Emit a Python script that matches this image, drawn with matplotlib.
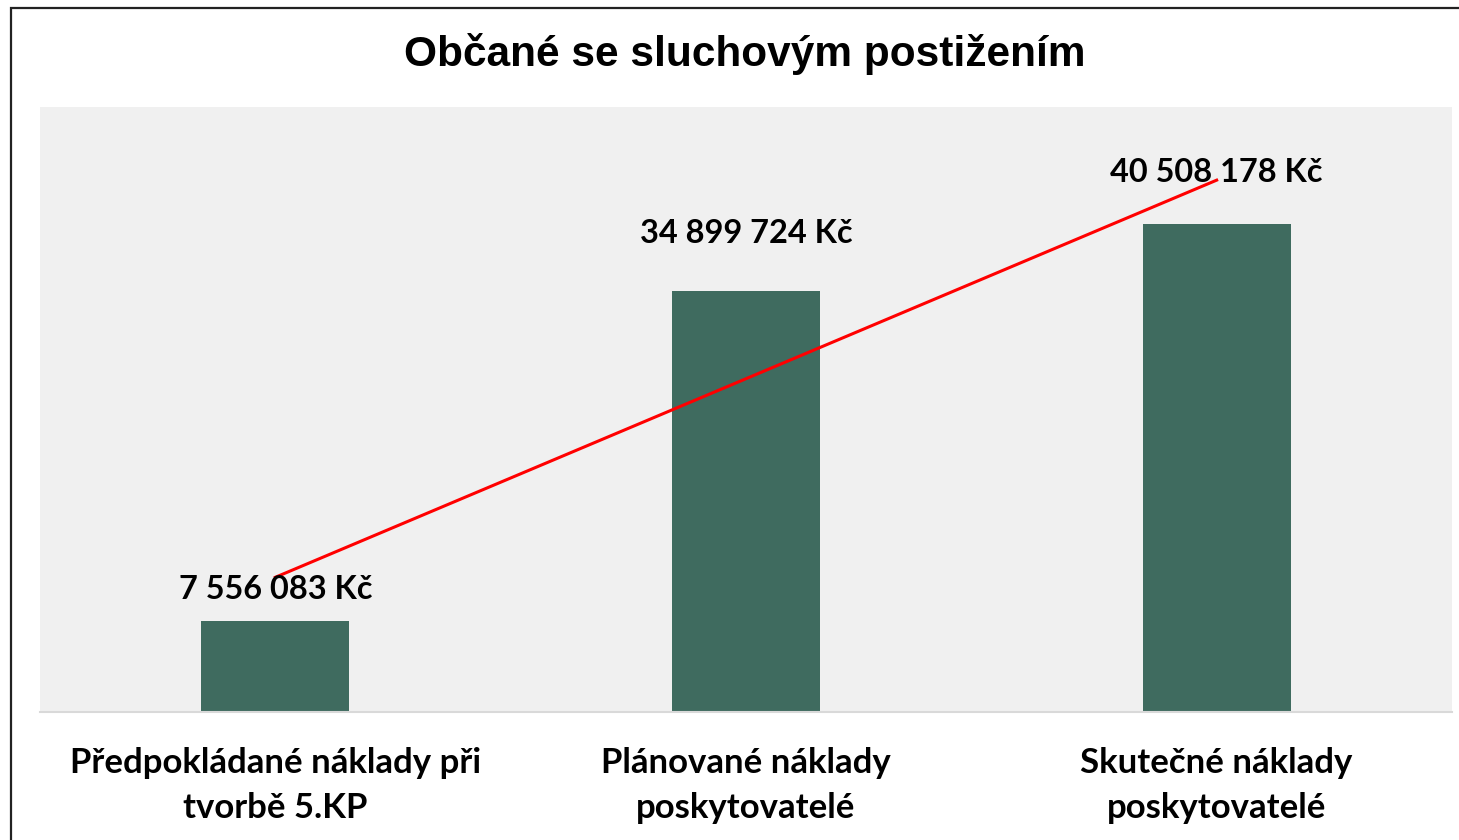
import matplotlib
matplotlib.use("Agg")
import matplotlib.pyplot as plt
import numpy as np
from matplotlib.patches import Rectangle


TITLE = "Občané se sluchovým postižením"
CATEGORIES = [
    "Předpokládané náklady při\ntvorbě 5.KP",
    "Plánované náklady\nposkytovatelé",
    "Skutečné náklady\nposkytovatelé",
]
VALUES = [7556083, 34899724, 40508178]
VALUE_LABELS = ["7 556 083 Kč", "34 899 724 Kč", "40 508 178 Kč"]

BAR_COLOR = "#3F6B5F"
TREND_COLOR = "#FF0000"
PLOT_BG = "#F0F0F0"
LABEL_FONT = "Lato"

fig = plt.figure(figsize=(14.59, 8.4), dpi=100)
ax = fig.add_axes([40 / 1459, 1 - 712 / 840, 1412 / 1459, 605 / 840])
ax.set_facecolor(PLOT_BG)

x = np.arange(len(VALUES))
ax.bar(x, VALUES, width=0.315, color=BAR_COLOR, zorder=2)

# linear trendline like in Excel
k, m = np.polyfit(x + 1, VALUES, 1)
ax.plot(x, k * (x + 1) + m, color=TREND_COLOR, linewidth=2.2, zorder=3)

# labels 2 and 3 were dragged a bit higher in the original
label_gaps = [17, 43, 37]
for xi, val, text, gap in zip(x, VALUES, VALUE_LABELS, label_gaps):
    ax.annotate(
        text,
        xy=(xi, val),
        xytext=(0, gap * 0.72),
        textcoords="offset points",
        ha="center",
        va="bottom",
        fontsize=23.4,
        fontweight="bold",
        family=LABEL_FONT,
        color="black",
        zorder=4,
    )

ax.set_xlim(-0.5, 2.5)
ax.set_ylim(0, 50.2e6)
ax.set_yticks([])
ax.set_xticks(x)
ax.set_xticklabels(CATEGORIES, fontsize=25, fontweight="bold",
                   family=LABEL_FONT, linespacing=1.5)
ax.tick_params(axis="x", length=0, pad=25)
for side in ["left", "right", "top"]:
    ax.spines[side].set_visible(False)
ax.spines["bottom"].set_color("#D9D9D9")
ax.spines["bottom"].set_linewidth(1.5)

fig.text(745 / 1459, 1 - 54 / 840, TITLE, ha="center", va="center",
         fontsize=30.5, fontweight="bold", family="Liberation Sans")

# outer frame of the chart object
fig.patches.append(Rectangle((11 / 1459, -0.05), 1.2, 1 - 8 / 840 + 0.05,
                             transform=fig.transFigure, fill=False,
                             edgecolor="#222222", linewidth=1.6))

fig.savefig("out.png", dpi=100)
